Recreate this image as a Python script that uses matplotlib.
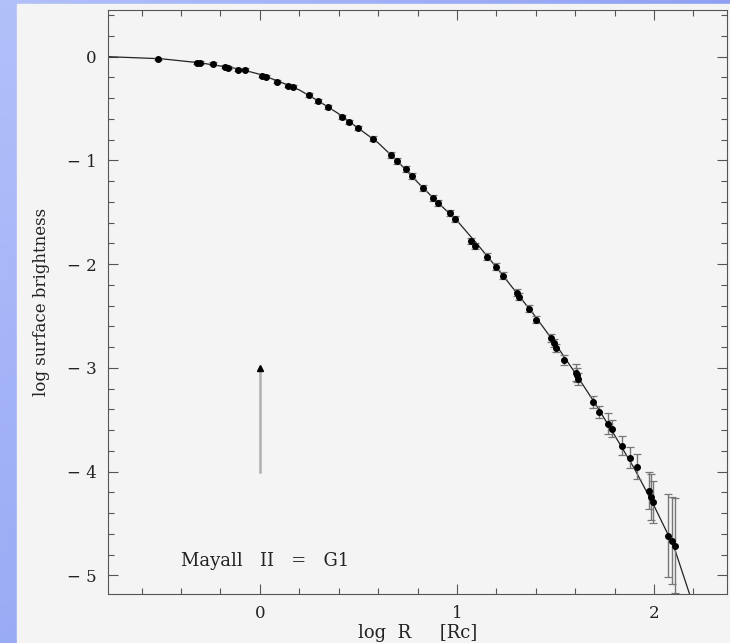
import numpy as np
import matplotlib.pyplot as plt
from matplotlib.patches import Rectangle
from matplotlib.ticker import MultipleLocator, FixedLocator

# surface brightness profile points (log R, log SB, error)
logr = [-0.518, -0.320, -0.305, -0.239, -0.178, -0.162, -0.112, -0.076, 0.010, 0.030,
        0.086, 0.142, 0.168, 0.249, 0.294, 0.345, 0.416, 0.452, 0.497, 0.574,
        0.665, 0.695, 0.741, 0.772, 0.827, 0.878, 0.904, 0.964, 0.990, 1.071,
        1.091, 1.152, 1.198, 1.234, 1.305, 1.315, 1.365, 1.401, 1.477, 1.492,
        1.503, 1.543, 1.604, 1.609, 1.614, 1.690, 1.721, 1.766, 1.787, 1.838,
        1.878, 1.914, 1.975, 1.985, 1.995, 2.071, 2.091, 2.107]
logsb = [-0.019, -0.058, -0.058, -0.068, -0.096, -0.106, -0.125, -0.125, -0.183, -0.193,
         -0.241, -0.280, -0.289, -0.366, -0.424, -0.482, -0.579, -0.627, -0.685, -0.791,
         -0.945, -1.003, -1.080, -1.148, -1.263, -1.360, -1.408, -1.504, -1.562, -1.774,
         -1.823, -1.929, -2.025, -2.112, -2.276, -2.314, -2.430, -2.536, -2.710, -2.758,
         -2.806, -2.922, -3.047, -3.067, -3.105, -3.327, -3.423, -3.539, -3.587, -3.751,
         -3.867, -3.954, -4.185, -4.243, -4.291, -4.619, -4.667, -4.715]
err = [0.01, 0.015, 0.015, 0.015, 0.015, 0.015, 0.015, 0.015, 0.015, 0.015,
       0.015, 0.015, 0.015, 0.02, 0.02, 0.02, 0.02, 0.02, 0.02, 0.025,
       0.03, 0.03, 0.03, 0.03, 0.03, 0.03, 0.03, 0.03, 0.03, 0.03,
       0.03, 0.035, 0.035, 0.035, 0.035, 0.035, 0.035, 0.035, 0.04, 0.04,
       0.04, 0.05, 0.08, 0.07, 0.06, 0.06, 0.06, 0.10, 0.08, 0.09,
       0.10, 0.12, 0.18, 0.22, 0.20, 0.40, 0.42, 0.46]

# fitted model curve
curve_x = [-0.77, -0.5, -0.3, -0.1, 0.0, 0.1, 0.2, 0.3, 0.4, 0.5, 0.6, 0.7, 0.8,
           0.9, 1.0, 1.1, 1.2, 1.3, 1.4, 1.5, 1.6, 1.7, 1.8, 1.9, 2.0, 2.1, 2.18]
curve_y = [0.0, -0.02, -0.06, -0.12, -0.17, -0.24, -0.32, -0.43, -0.55, -0.69, -0.83,
           -1.01, -1.21, -1.40, -1.58, -1.80, -2.03, -2.27, -2.51, -2.77, -3.05,
           -3.34, -3.65, -3.97, -4.33, -4.72, -5.18]

plt.rcParams['font.family'] = 'DejaVu Serif'

fig = plt.figure(figsize=(7.3, 6.43), dpi=100)

# slide background: blue gradient with light panel
bg = fig.add_axes([0, 0, 1, 1], zorder=-10)
gx, gy = np.meshgrid(np.linspace(0, 1, 50), np.linspace(0, 1, 50))
t = 0.6 * gx + 0.4 * gy
c0 = np.array([178, 192, 250]) / 255
c1 = np.array([120, 140, 238]) / 255
img = c0[None, None, :] * (1 - t[..., None]) + c1[None, None, :] * t[..., None]
bg.imshow(img, extent=[0, 1, 0, 1], aspect='auto', origin='upper')
bg.add_patch(Rectangle((17 / 730, 0), 1, 1 - 4 / 643, color='#f4f4f4'))
bg.set_xlim(0, 1)
bg.set_ylim(0, 1)
bg.axis('off')

ax = fig.add_axes([108 / 730, 49 / 643, 619 / 730, 584 / 643])
ax.set_facecolor('#f4f4f4')
ax.set_xlim(-0.77, 2.37)
ax.set_ylim(-5.18, 0.45)

ax.plot(curve_x, curve_y, color='#222222', lw=0.9)
ax.errorbar(logr, logsb, yerr=err, fmt='o', ms=4, color='black',
            ecolor='#777777', elinewidth=1.0, capsize=2.6, capthick=0.9)

# scale bar at log R = 0
ax.plot([0, 0], [-3.0, -4.0], color='#b0b0b0', lw=1.8)
ax.plot([0], [-3.0], marker='^', ms=4, color='black')

ax.text(-0.4, -4.86, 'Mayall   II   =   G1', fontsize=13, va='center', color='#222222')

ax.xaxis.set_major_locator(FixedLocator([0, 1, 2]))
ax.xaxis.set_minor_locator(MultipleLocator(0.2))
ax.yaxis.set_major_locator(FixedLocator([0, -1, -2, -3, -4, -5]))
ax.yaxis.set_minor_locator(MultipleLocator(0.2))
ax.set_xticklabels(['0', '1', '2'])
ax.set_yticklabels(['0', '\u2212 1', '\u2212 2', '\u2212 3', '\u2212 4', '\u2212 5'])
ax.tick_params(which='both', direction='in', top=True, right=True,
               color='#555555', width=0.8, labelsize=12, labelcolor='#222222')
ax.tick_params(which='major', length=7, pad=8)
ax.tick_params(which='minor', length=4)
for s in ax.spines.values():
    s.set_color('#555555')
    s.set_linewidth(0.8)

ax.set_xlabel('log  R     [Rc]', fontsize=13, color='#222222', labelpad=1)
ax.set_ylabel('log surface brightness', fontsize=12, color='#222222', labelpad=12)

fig.savefig('out.png', dpi=100)
